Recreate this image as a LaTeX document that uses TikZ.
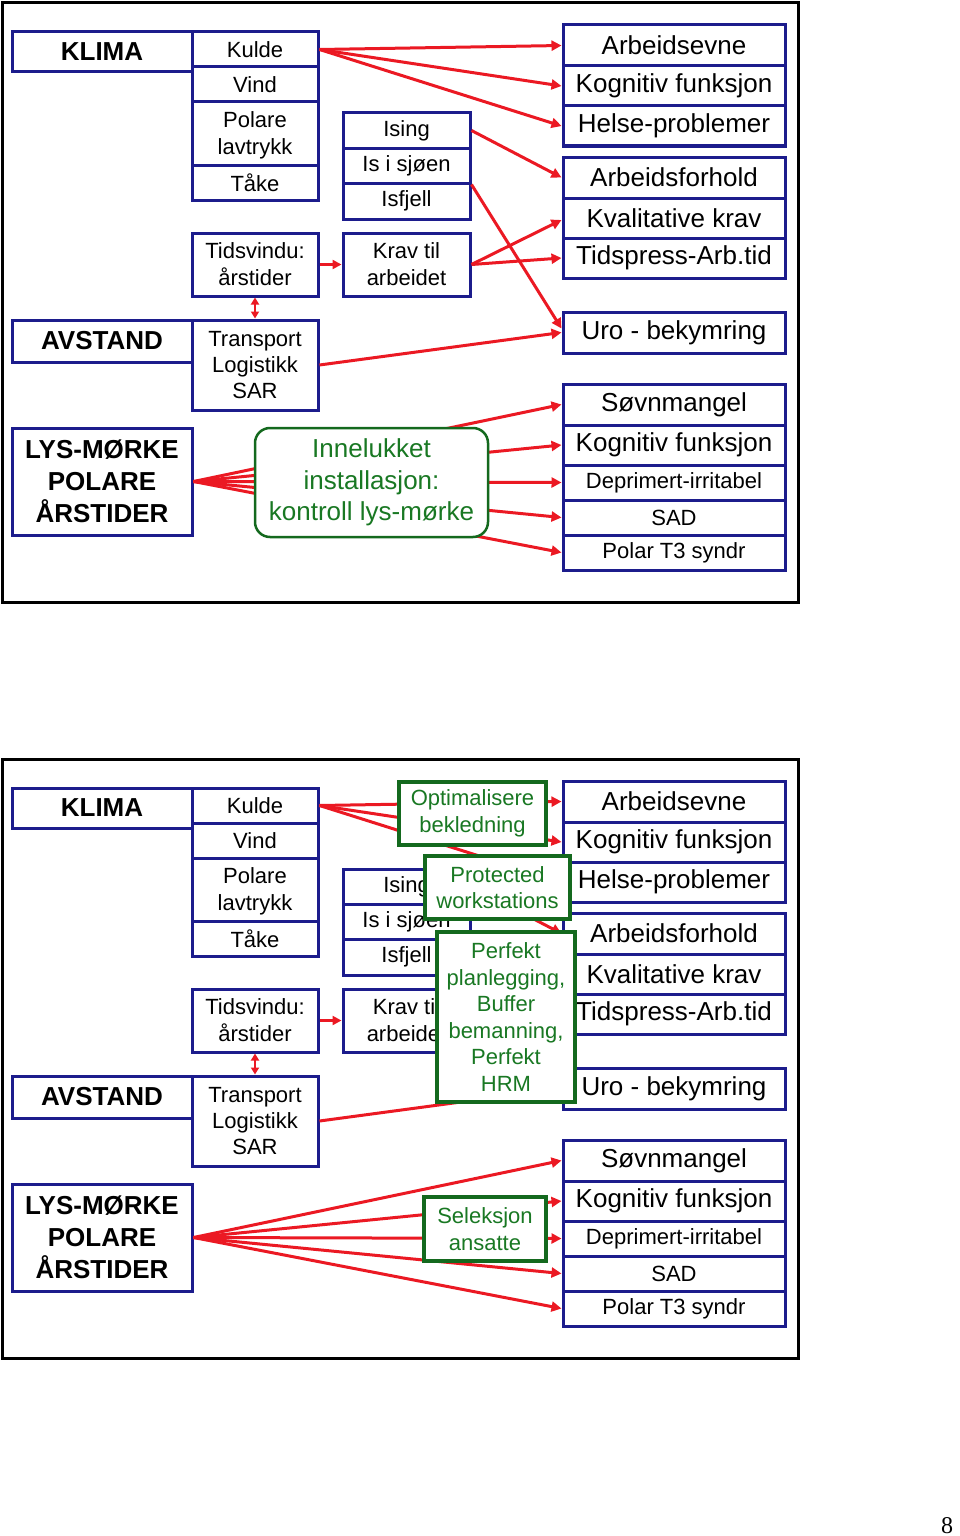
\documentclass[tikz,border=0pt]{standalone}
\usepackage{fontspec}
\setmainfont{Liberation Sans}
\newfontfamily\serifnum{Liberation Serif}
\usetikzlibrary{arrows.meta}
\definecolor{myblue}{RGB}{28,28,140}
\definecolor{myred}{RGB}{235,25,35}
\definecolor{mygreen}{RGB}{20,105,30}
\definecolor{mygtext}{RGB}{25,120,35}
\tikzset{
 bbox/.style={draw=myblue, line width=3pt, fill=white, inner sep=0pt, align=center, font=\fontsize{22}{27}\selectfont},
 rbox/.style={bbox, minimum width=222pt, font=\fontsize{26}{31}\selectfont},
 rsbox/.style={bbox, minimum width=222pt, minimum height=35pt},
 hbox/.style={bbox, minimum width=180pt, font=\fontsize{26}{32}\selectfont\bfseries},
 cbox/.style={bbox, minimum width=126pt},
 ibox/.style={bbox, minimum width=127pt},
 gbox/.style={draw=mygreen, line width=4.5pt, fill=white, inner sep=0pt, align=center, text=mygtext, font=\fontsize{22}{26.6}\selectfont},
 grbox/.style={draw=mygreen, line width=2.5pt, rounded corners=15pt, fill=white, inner sep=0pt, align=center, text=mygtext, font=\fontsize{26}{31.7}\selectfont},
 arr/.style={draw=myred, line width=3pt, -{Triangle[length=10pt,width=10pt]}},
 sarr/.style={draw=myred, line width=3pt, -{Triangle[length=9pt,width=9pt]}},
 darr/.style={draw=myred, line width=2.5pt, {Triangle[length=7pt,width=8pt]}-{Triangle[length=7pt,width=8pt]}},
 frame/.style={draw=black, line width=3pt, inner sep=0pt},
}
\newcommand\basediagram{%
 \node[frame, minimum width=796pt, minimum height=599pt] (frame) at (400,302.5) {};
 \node[hbox, minimum height=40pt] (klima) at (102,52) {KLIMA};
 \node[cbox, minimum height=35pt] (kulde) at (255,49.5) {Kulde};
 \node[cbox, minimum height=35pt] (vind) at (255,84.5) {Vind};
 \node[cbox, minimum height=63pt, inner ysep=0pt, text depth=0pt] (polare) at (255,133.5) {Polare\\lavtrykk};
 \node[cbox, minimum height=35pt] (taake) at (255,182.5) {Tåke};
 \node[ibox, minimum height=35pt] (ising) at (406.5,130.5) {Ising};
 \node[ibox, minimum height=35pt] (issj) at (406.5,165.5) {Is i sjøen};
 \node[ibox, minimum height=36pt] (isfjell) at (406.5,201) {Isfjell};
 \node[cbox, minimum height=63pt] (tids) at (255,264.5) {Tidsvindu:\\årstider};
 \node[ibox, minimum height=63pt] (krav) at (406.5,264.5) {Krav til\\arbeidet};
 \node[hbox, minimum height=42pt] (avstand) at (102,341) {AVSTAND};
 \node[cbox, minimum height=90pt, font=\fontsize{22}{26}\selectfont] (transp) at (255,365) {Transport\\Logistikk\\SAR};
 \node[hbox, minimum height=107pt] (lys) at (102,481.5) {LYS-MØRKE\\POLARE\\ÅRSTIDER};
 \node[rbox, minimum height=41pt] (arbevne) at (674,45.5) {Arbeidsevne};
 \node[rbox, minimum height=40pt] (kogn1) at (674,86) {Kognitiv funksjon};
 \node[rbox, minimum height=40pt] (helse) at (674,126) {Helse-problemer};
 \node[rbox, minimum height=41pt] (arbforh) at (674,177.5) {Arbeidsforhold};
 \node[rbox, minimum height=40pt] (kval) at (674,218) {Kvalitative krav};
 \node[rbox, minimum height=40pt] (tidspr) at (674,258) {Tidspress-Arb.tid};
 \node[rbox, minimum height=41pt] (uro) at (674,332.5) {Uro - bekymring};
 \node[rbox, minimum height=41pt] (sovn) at (674,404.5) {Søvnmangel};
 \node[rbox, minimum height=40pt] (kogn2) at (674,445) {Kognitiv funksjon};
 \node[rsbox] (depr) at (674,482.5) {Deprimert-irritabel};
 \node[rsbox] (sad) at (674,517.5) {SAD};
 \node[rsbox] (polar) at (674,552.5) {Polar T3 syndr};
 \draw[arr] (kulde.east) -- (arbevne.west);
 \draw[arr] (kulde.east) -- (kogn1.west);
 \draw[arr] (kulde.east) -- (helse.west);
 \draw[arr] (ising.east) -- (arbforh.west);
 \draw[arr] (issj.south east) -- ([yshift=4pt]uro.west);
 \draw[arr] (krav.east) -- ([yshift=-2pt]kval.west);
 \draw[arr] (krav.east) -- (tidspr.west);
 \draw[arr] (transp.east) -- (uro.west);
 \draw[sarr] (tids.east) -- (krav.west);
 \draw[darr] (tids.south) -- (transp.north);
 \foreach \t in {sovn,kogn2,depr,sad,polar} \draw[arr] (lys.east) -- (\t.west);
}
\begin{document}
\begin{tikzpicture}[x=1pt,y=-1pt]
\useasboundingbox (0,0) rectangle (960,1536);
\begin{scope}[name prefix=a-]
 \basediagram
 \node[grbox, minimum width=233pt, minimum height=109pt] (innel) at (371.5,482.5) {Innelukket\\installasjon:\\kontroll lys-mørke};
\end{scope}
\begin{scope}[shift={(0,756)}, name prefix=b-]
 \basediagram
 \node[gbox, minimum width=147pt, minimum height=63pt] (optim) at (472.5,57.5) {Optimalisere\\bekledning};
 \node[gbox, minimum width=145pt, minimum height=63pt] (protect) at (497.5,131.5) {Protected\\workstations};
 \node[gbox, minimum width=138pt, minimum height=170pt] (perfekt) at (506,261) {Perfekt\\planlegging,\\Buffer\\bemanning,\\Perfekt\\HRM};
 \node[gbox, minimum width=122pt, minimum height=64pt] (selek) at (485,473) {Seleksjon\\ansatte};
\end{scope}
\node[font=\serifnum\fontsize{24}{24}\selectfont] (pagenum) at (947,1526) {8};
\end{tikzpicture}
\end{document}
